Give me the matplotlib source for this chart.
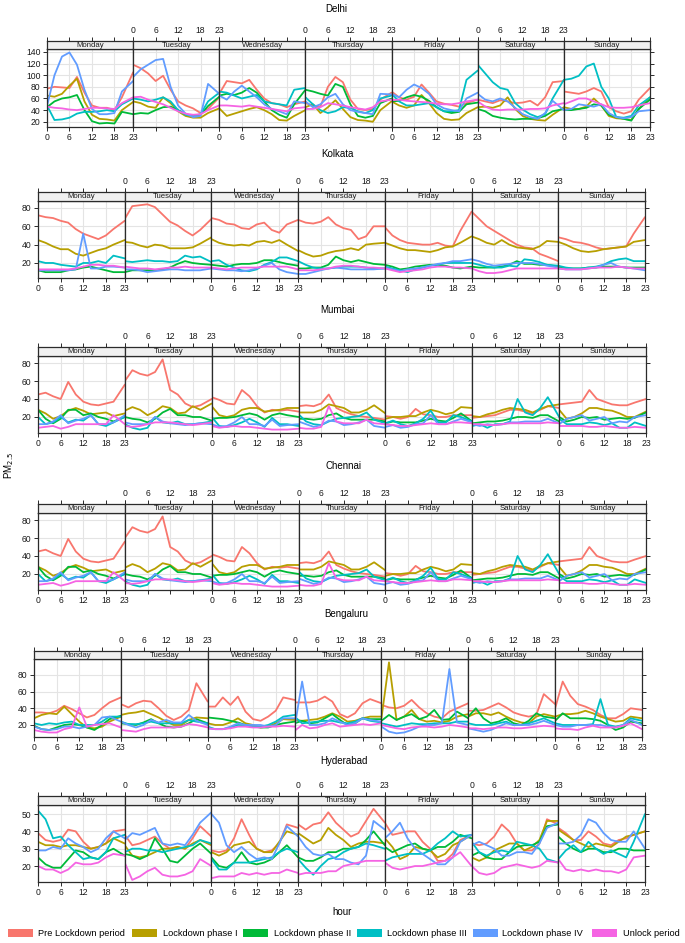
import matplotlib
matplotlib.use("Agg")
import matplotlib.pyplot as plt
from matplotlib.patches import Rectangle

plt.rcParams['font.family'] = ['Liberation Sans', 'DejaVu Sans']

# ---------------- data ----------------
HOURS = [0, 2, 4, 6, 8, 10, 12, 14, 16, 18, 20, 23]
HOUR_TICKS = [0, 6, 12, 18, 23]
DAYS = ["Monday", "Tuesday", "Wednesday", "Thursday", "Friday", "Saturday", "Sunday"]
PERIODS = ["Pre Lockdown period", "Lockdown phase I", "Lockdown phase II",
           "Lockdown phase III", "Lockdown phase IV", "Unlock period"]
COLORS = ["#F8766D", "#B79F00", "#00BA38", "#00BFC4", "#619CFF", "#F564E3"]
CITIES = ["Delhi", "Kolkata", "Mumbai", "Chennai", "Bengaluru", "Hyderabad"]

# each list: 7 days (Mon..Sun) x 12 hourly samples (HOURS)
DELHI_PRE = [77, 80, 79, 78, 97, 70, 48, 44, 44, 40, 62, 105,
             118, 112, 103, 90, 99, 75, 55, 48, 43, 35, 42, 62,
             68, 90, 88, 86, 92, 75, 60, 52, 50, 45, 50, 55,
             52, 48, 46, 80, 97, 88, 58, 42, 40, 42, 58, 70,
             72, 62, 58, 63, 84, 70, 55, 51, 49, 46, 52, 58,
             58, 55, 52, 57, 55, 52, 53, 56, 48, 62, 88, 90,
             72, 70, 68, 72, 78, 72, 45, 38, 34, 38, 58, 78]
DELHI_P1 = [65, 63, 68, 82, 94, 55, 32, 25, 24, 22, 40, 54,
            55, 52, 46, 44, 62, 52, 38, 30, 27, 27, 35, 43,
            43, 30, 34, 38, 42, 45, 40, 33, 23, 22, 30, 40,
            45, 50, 35, 45, 57, 42, 28, 23, 22, 20, 40, 55,
            55, 48, 44, 48, 66, 52, 35, 25, 23, 24, 35, 45,
            45, 46, 44, 48, 62, 42, 30, 25, 23, 22, 32, 45,
            45, 42, 42, 46, 60, 48, 30, 26, 25, 23, 42, 62]
DELHI_P2 = [45, 55, 60, 62, 66, 40, 21, 17, 18, 17, 37, 33,
            33, 35, 34, 40, 45, 46, 40, 33, 30, 32, 47, 63,
            65, 68, 66, 70, 78, 70, 55, 40, 32, 27, 50, 75,
            75, 72, 68, 65, 85, 80, 50, 30, 27, 30, 52, 60,
            55, 56, 62, 66, 63, 56, 45, 38, 35, 37, 50, 53,
            42, 38, 30, 27, 25, 24, 25, 25, 26, 30, 38, 42,
            40, 40, 42, 44, 50, 48, 32, 28, 25, 22, 42, 58]
DELHI_P3 = [48, 23, 24, 27, 34, 37, 37, 38, 40, 38, 50, 60,
            60, 58, 55, 58, 62, 55, 40, 32, 30, 33, 55, 70,
            72, 70, 65, 60, 63, 66, 55, 52, 50, 48, 75, 78,
            62, 50, 40, 35, 38, 45, 44, 38, 35, 40, 60, 65,
            68, 55, 48, 48, 50, 52, 45, 38, 38, 40, 92, 108,
            118, 103, 88, 78, 75, 52, 41, 33, 28, 33, 60, 92,
            92, 94, 99, 115, 120, 80, 60, 28, 27, 30, 48, 62]
DELHI_P4 = [47, 100, 132, 139, 118, 75, 42, 33, 33, 35, 72, 90,
            97, 110, 118, 126, 128, 80, 48, 34, 28, 30, 85, 68,
            65, 58, 72, 82, 72, 62, 50, 42, 38, 33, 55, 52,
            55, 45, 50, 62, 68, 50, 40, 37, 35, 33, 68, 67,
            68, 62, 75, 84, 78, 68, 50, 43, 40, 38, 60, 70,
            68, 58, 55, 60, 55, 44, 33, 28, 25, 35, 56, 40,
            40, 42, 50, 48, 46, 50, 35, 28, 26, 28, 38, 40]
DELHI_UNLOCK = [46, 44, 43, 41, 40, 42, 44, 44, 43, 42, 52, 62,
                62, 63, 58, 54, 50, 44, 38, 34, 32, 33, 40, 48,
                48, 48, 47, 46, 48, 46, 44, 42, 40, 38, 43, 45,
                42, 42, 45, 52, 50, 48, 45, 43, 41, 45, 55, 58,
                57, 58, 56, 55, 54, 53, 51, 50, 50, 52, 55, 58,
                55, 46, 41, 40, 41, 41, 41, 42, 42, 43, 48, 52,
                50, 55, 60, 60, 55, 50, 45, 44, 44, 45, 48, 52]

KOLKATA_PRE = [72, 70, 69, 66, 64, 57, 52, 49, 46, 50, 57, 66,
               68, 82, 83, 84, 81, 73, 65, 61, 55, 50, 56, 68,
               69, 67, 63, 62, 58, 57, 62, 64, 56, 53, 62, 67,
               67, 64, 63, 65, 70, 62, 58, 56, 46, 49, 60, 60,
               59, 50, 45, 42, 41, 40, 40, 42, 39, 38, 55, 76,
               76, 68, 60, 55, 50, 45, 40, 37, 36, 30, 27, 22,
               48, 46, 43, 42, 40, 37, 35, 36, 37, 38, 52, 70]
KOLKATA_P1 = [45, 42, 38, 35, 35, 30, 28, 31, 34, 36, 40, 45,
              43, 42, 39, 37, 40, 39, 36, 36, 36, 37, 41, 48,
              46, 42, 40, 39, 40, 39, 43, 44, 42, 45, 40, 33,
              34, 30, 27, 28, 31, 33, 34, 36, 34, 40, 41, 42,
              42, 39, 36, 34, 34, 33, 32, 34, 37, 38, 42, 49,
              49, 46, 42, 40, 45, 40, 37, 36, 35, 38, 44, 43,
              43, 40, 36, 33, 32, 33, 35, 36, 37, 38, 43, 45]
KOLKATA_P2 = [12, 10, 10, 10, 12, 13, 15, 16, 14, 12, 10, 10,
              10, 12, 12, 12, 12, 13, 15, 19, 22, 20, 19, 18,
              18, 17, 16, 18, 19, 19, 20, 23, 23, 21, 19, 17,
              14, 14, 15, 15, 18, 27, 23, 21, 23, 21, 19, 18,
              18, 16, 13, 14, 16, 17, 18, 18, 17, 15, 14, 16,
              16, 15, 15, 15, 16, 18, 22, 19, 19, 18, 18, 16,
              15, 14, 14, 14, 15, 15, 16, 16, 16, 15, 15, 15]
KOLKATA_P3 = [22, 20, 20, 18, 17, 16, 20, 20, 22, 20, 28, 25,
              22, 21, 22, 23, 22, 22, 21, 22, 28, 26, 27, 21,
              22, 23, 18, 15, 12, 11, 13, 18, 21, 26, 26, 22,
              22, 18, 15, 14, 14, 15, 16, 16, 16, 15, 14, 14,
              16, 14, 12, 10, 13, 15, 17, 18, 20, 20, 20, 20,
              20, 18, 16, 15, 15, 17, 16, 24, 23, 21, 18, 17,
              17, 15, 14, 14, 15, 16, 18, 22, 24, 25, 22, 22]
KOLKATA_P4 = [12, 12, 12, 12, 12, 13, 52, 14, 14, 16, 16, 15,
              13, 13, 12, 10, 11, 12, 13, 13, 12, 12, 12, 14,
              14, 13, 12, 12, 11, 12, 14, 17, 20, 13, 10, 8,
              8, 8, 10, 12, 14, 15, 14, 13, 13, 13, 13, 14,
              15, 13, 11, 13, 14, 15, 17, 19, 20, 22, 22, 24,
              24, 22, 19, 17, 18, 19, 20, 20, 20, 19, 17, 15,
              14, 13, 13, 13, 14, 15, 18, 20, 16, 15, 14, 12]
KOLKATA_UNLOCK = [13, 13, 13, 13, 13, 14, 16, 18, 18, 17, 17, 15,
                  16, 15, 14, 14, 13, 14, 15, 15, 16, 15, 15, 15,
                  15, 14, 13, 14, 15, 15, 15, 16, 16, 16, 16, 13,
                  12, 12, 12, 13, 14, 16, 17, 17, 16, 15, 15, 14,
                  14, 12, 10, 11, 12, 13, 15, 16, 16, 15, 15, 14,
                  14, 11, 9, 9, 10, 12, 14, 14, 14, 14, 14, 14,
                  14, 13, 13, 13, 14, 15, 15, 15, 16, 15, 14, 14]

MUMBAI_PRE = [45, 47, 43, 40, 59, 45, 37, 34, 33, 35, 37, 56,
              60, 72, 68, 66, 70, 84, 50, 45, 35, 31, 33, 40,
              42, 39, 35, 34, 50, 43, 32, 25, 28, 27, 28, 26,
              32, 33, 32, 35, 45, 30, 26, 23, 21, 20, 19, 17,
              21, 20, 18, 20, 29, 23, 22, 20, 20, 22, 22, 22,
              19, 20, 21, 22, 25, 28, 28, 26, 24, 28, 32, 30,
              34, 35, 36, 37, 50, 40, 37, 34, 33, 33, 36, 40]
MUMBAI_P1 = [28, 24, 18, 21, 27, 30, 27, 23, 24, 25, 21, 24,
             27, 31, 28, 22, 26, 32, 30, 24, 25, 32, 28, 35,
             32, 22, 20, 22, 28, 30, 30, 26, 27, 28, 30, 30,
             25, 25, 25, 28, 34, 32, 30, 25, 25, 28, 33, 24,
             18, 20, 20, 21, 21, 25, 28, 26, 23, 25, 31, 30,
             21, 20, 23, 25, 28, 30, 29, 28, 25, 29, 32, 34,
             28, 18, 20, 24, 30, 30, 28, 27, 24, 20, 20, 26]
MUMBAI_P2 = [28, 18, 13, 18, 28, 28, 22, 24, 20, 18, 15, 20,
             20, 18, 17, 14, 18, 25, 29, 22, 22, 20, 20, 16,
             18, 19, 19, 20, 22, 24, 22, 17, 22, 24, 22, 20,
             18, 18, 17, 18, 22, 24, 19, 17, 17, 17, 17, 15,
             13, 15, 14, 14, 14, 16, 18, 16, 15, 19, 24, 15,
             13, 14, 15, 15, 16, 18, 20, 20, 19, 22, 22, 15,
             20, 15, 17, 20, 19, 20, 17, 18, 19, 18, 19, 25]
MUMBAI_P3 = [20, 12, 14, 20, 14, 17, 16, 22, 12, 10, 14, 20,
             12, 8, 6, 8, 20, 14, 13, 15, 12, 12, 13, 15,
             20, 10, 9, 11, 14, 18, 14, 9, 19, 12, 12, 10,
             23, 15, 12, 11, 15, 18, 19, 20, 21, 25, 17, 13,
             13, 16, 12, 10, 13, 18, 27, 14, 14, 22, 20, 15,
             10, 12, 8, 12, 12, 15, 40, 25, 22, 30, 42, 20,
             18, 12, 12, 12, 14, 13, 11, 13, 8, 8, 14, 10]
MUMBAI_P4 = [12, 12, 15, 22, 13, 16, 18, 22, 12, 12, 14, 22,
             14, 12, 12, 12, 20, 15, 13, 12, 11, 12, 13, 12,
             12, 9, 10, 14, 20, 12, 12, 10, 17, 10, 11, 12,
             15, 12, 9, 11, 16, 15, 11, 12, 14, 17, 10, 8,
             9, 11, 8, 9, 12, 13, 22, 12, 12, 15, 18, 14,
             12, 10, 12, 11, 12, 14, 14, 15, 15, 15, 18, 13,
             12, 18, 20, 22, 16, 18, 20, 13, 15, 14, 20, 22]
MUMBAI_UNLOCK = [8, 9, 10, 7, 9, 12, 12, 12, 12, 12, 22, 12,
                 10, 9, 10, 12, 14, 14, 14, 13, 12, 11, 12, 14,
                 10, 8, 9, 10, 9, 9, 8, 7, 6, 6, 6, 7,
                 8, 7, 7, 9, 32, 15, 13, 13, 13, 17, 13, 12,
                 12, 11, 10, 10, 11, 12, 13, 12, 12, 14, 14, 13,
                 12, 12, 11, 11, 12, 13, 13, 13, 13, 13, 14, 13,
                 10, 10, 10, 10, 9, 9, 10, 9, 8, 8, 9, 8]

# the Chennai panel in the reference shows the same curves as Mumbai
CHENNAI_PRE = list(MUMBAI_PRE)
CHENNAI_P1 = list(MUMBAI_P1)
CHENNAI_P2 = list(MUMBAI_P2)
CHENNAI_P3 = list(MUMBAI_P3)
CHENNAI_P4 = list(MUMBAI_P4)
CHENNAI_UNLOCK = list(MUMBAI_UNLOCK)

BENGALURU_PRE = [35, 35, 34, 37, 43, 39, 34, 29, 32, 40, 47, 53,
                 45, 41, 46, 49, 48, 40, 31, 26, 30, 38, 70, 48,
                 42, 42, 53, 44, 54, 36, 27, 25, 30, 37, 53, 50,
                 47, 47, 47, 49, 54, 48, 33, 29, 34, 46, 51, 46,
                 44, 41, 40, 43, 50, 41, 34, 30, 28, 36, 40, 46,
                 37, 37, 38, 42, 46, 41, 35, 32, 30, 32, 57, 45,
                 40, 72, 55, 45, 42, 38, 32, 28, 28, 33, 40, 38]
BENGALURU_P1 = [28, 32, 34, 33, 42, 33, 24, 17, 16, 18, 24, 30,
                32, 34, 35, 37, 33, 29, 24, 20, 20, 26, 29, 28,
                22, 20, 20, 23, 28, 22, 20, 17, 18, 22, 27, 26,
                26, 25, 26, 27, 30, 34, 30, 24, 25, 28, 30, 30,
                28, 95, 26, 30, 38, 27, 24, 25, 23, 25, 30, 33,
                30, 34, 34, 32, 35, 30, 26, 23, 22, 30, 33, 30,
                30, 33, 33, 34, 37, 34, 30, 27, 24, 25, 30, 28]
BENGALURU_P2 = [19, 15, 14, 17, 20, 21, 20, 17, 14, 20, 27, 31,
                22, 21, 20, 23, 27, 22, 18, 17, 18, 22, 27, 22,
                29, 28, 27, 25, 23, 20, 18, 17, 17, 20, 22, 24,
                22, 25, 22, 23, 28, 33, 26, 20, 22, 28, 27, 27,
                25, 32, 26, 30, 33, 27, 30, 38, 26, 27, 36, 28,
                30, 40, 28, 22, 24, 28, 22, 20, 25, 34, 30, 28,
                25, 34, 28, 28, 28, 27, 25, 20, 14, 17, 24, 22]
BENGALURU_P3 = [22, 20, 22, 21, 23, 24, 20, 20, 20, 24, 30, 30,
                24, 21, 21, 22, 24, 22, 22, 22, 22, 26, 24, 22,
                18, 15, 15, 17, 20, 20, 18, 18, 20, 24, 30, 32,
                30, 22, 23, 24, 25, 25, 23, 22, 24, 28, 25, 23,
                22, 20, 18, 20, 22, 21, 21, 22, 22, 22, 24, 24,
                22, 20, 20, 20, 22, 24, 20, 20, 22, 25, 28, 22,
                22, 20, 20, 20, 20, 21, 51, 20, 18, 20, 28, 25]
BENGALURU_P4 = [18, 15, 14, 15, 18, 18, 16, 18, 20, 29, 30, 24,
                24, 20, 17, 20, 26, 23, 26, 23, 23, 32, 25, 20,
                16, 15, 15, 18, 22, 20, 20, 20, 18, 20, 28, 28,
                17, 72, 20, 20, 22, 28, 24, 20, 22, 28, 26, 24,
                18, 12, 10, 11, 14, 18, 20, 20, 22, 87, 23, 20,
                16, 14, 12, 14, 18, 22, 20, 20, 20, 22, 25, 20,
                20, 18, 18, 20, 20, 20, 20, 18, 17, 20, 26, 20]
BENGALURU_UNLOCK = [14, 12, 11, 11, 15, 17, 41, 18, 20, 21, 22, 17,
                    14, 13, 12, 15, 17, 17, 17, 17, 18, 21, 20, 17,
                    16, 15, 15, 16, 18, 18, 17, 17, 18, 18, 19, 18,
                    13, 20, 16, 17, 20, 22, 18, 19, 20, 21, 20, 22,
                    20, 18, 16, 15, 17, 18, 18, 17, 18, 20, 19, 17,
                    16, 16, 15, 16, 17, 17, 16, 16, 17, 18, 19, 18,
                    16, 15, 15, 14, 17, 19, 17, 17, 17, 19, 22, 15]

HYDERABAD_PRE = [39, 35, 34, 35, 41, 40, 34, 30, 31, 33, 40, 41,
                 38, 32, 33, 35, 37, 33, 30, 31, 30, 36, 43, 37,
                 29, 28, 29, 36, 47, 38, 30, 28, 29, 33, 44, 42,
                 44, 41, 44, 45, 51, 45, 41, 37, 39, 46, 53, 45,
                 45, 38, 39, 40, 40, 34, 30, 23, 23, 27, 35, 38,
                 33, 32, 33, 37, 44, 40, 33, 29, 29, 33, 47, 44,
                 42, 39, 35, 35, 40, 37, 33, 32, 35, 36, 38, 40]
HYDERABAD_P1 = [34, 32, 32, 31, 32, 32, 31, 30, 31, 33, 36, 33,
                32, 26, 25, 26, 28, 30, 30, 31, 30, 33, 35, 32,
                28, 26, 28, 32, 33, 34, 30, 28, 28, 34, 40, 38,
                39, 36, 33, 35, 42, 38, 35, 31, 33, 34, 34, 33,
                36, 31, 24, 26, 31, 30, 29, 25, 27, 32, 34, 38,
                25, 23, 25, 29, 31, 33, 33, 29, 31, 35, 46, 46,
                41, 38, 35, 33, 31, 33, 32, 31, 34, 37, 38, 40]
HYDERABAD_P2 = [25, 21, 19, 19, 24, 29, 28, 25, 24, 28, 30, 26,
                27, 26, 24, 26, 36, 30, 23, 22, 26, 30, 33, 27,
                25, 20, 19, 22, 28, 22, 21, 22, 24, 28, 32, 25,
                25, 23, 23, 25, 28, 28, 30, 30, 31, 35, 40, 32,
                31, 28, 30, 32, 33, 30, 29, 31, 31, 34, 38, 36,
                26, 28, 25, 24, 24, 28, 31, 32, 32, 34, 43, 44,
                37, 33, 30, 28, 30, 30, 28, 28, 30, 30, 29, 29]
HYDERABAD_P3 = [52, 47, 36, 37, 32, 28, 24, 25, 24, 28, 36, 38,
                28, 30, 30, 29, 29, 28, 29, 30, 31, 32, 35, 33,
                24, 18, 18, 22, 22, 22, 23, 24, 25, 28, 30, 28,
                24, 19, 15, 20, 24, 25, 28, 30, 31, 33, 32, 30,
                23, 25, 26, 27, 27, 27, 29, 33, 36, 40, 37, 38,
                34, 28, 26, 28, 29, 28, 34, 33, 32, 30, 24, 22,
                24, 29, 32, 28, 34, 30, 27, 29, 27, 25, 34, 50]
HYDERABAD_P4 = [29, 29, 31, 30, 36, 33, 31, 28, 30, 36, 40, 36,
                35, 39, 38, 40, 42, 33, 32, 33, 32, 38, 45, 51,
                50, 45, 32, 28, 31, 27, 24, 25, 24, 33, 43, 37,
                37, 31, 27, 26, 27, 24, 24, 22, 21, 26, 46, 41,
                36, 40, 45, 36, 30, 27, 24, 21, 21, 25, 34, 38,
                32, 34, 32, 30, 26, 26, 28, 28, 27, 33, 42, 45,
                33, 33, 34, 38, 47, 45, 39, 35, 34, 34, 40, 30]
HYDERABAD_UNLOCK = [20, 18, 18, 16, 18, 22, 21, 21, 22, 25, 27, 26,
                    22, 12, 14, 17, 19, 15, 14, 14, 15, 17, 24, 20,
                    13, 14, 14, 14, 16, 15, 16, 15, 16, 16, 18, 16,
                    15, 16, 16, 16, 17, 17, 20, 21, 22, 23, 23, 23,
                    22, 19, 18, 19, 20, 20, 21, 22, 23, 25, 28, 20,
                    20, 16, 15, 16, 19, 20, 21, 20, 19, 20, 23, 22,
                    24, 18, 17, 18, 17, 18, 17, 17, 16, 18, 25, 26]

CITY_DATA = {
    "Delhi": [DELHI_PRE, DELHI_P1, DELHI_P2, DELHI_P3, DELHI_P4, DELHI_UNLOCK],
    "Kolkata": [KOLKATA_PRE, KOLKATA_P1, KOLKATA_P2, KOLKATA_P3, KOLKATA_P4, KOLKATA_UNLOCK],
    "Mumbai": [MUMBAI_PRE, MUMBAI_P1, MUMBAI_P2, MUMBAI_P3, MUMBAI_P4, MUMBAI_UNLOCK],
    "Chennai": [CHENNAI_PRE, CHENNAI_P1, CHENNAI_P2, CHENNAI_P3, CHENNAI_P4, CHENNAI_UNLOCK],
    "Bengaluru": [BENGALURU_PRE, BENGALURU_P1, BENGALURU_P2, BENGALURU_P3, BENGALURU_P4, BENGALURU_UNLOCK],
    "Hyderabad": [HYDERABAD_PRE, HYDERABAD_P1, HYDERABAD_P2, HYDERABAD_P3, HYDERABAD_P4, HYDERABAD_UNLOCK],
}
Y_TICKS = {
    "Delhi": [20, 40, 60, 80, 100, 120, 140],
    "Kolkata": [20, 40, 60, 80],
    "Mumbai": [20, 40, 60, 80],
    "Chennai": [20, 40, 60, 80],
    "Bengaluru": [20, 40, 60, 80],
    "Hyderabad": [20, 30, 40, 50],
}

# ---------------- layout (pixels) ----------------
W, H = 685, 943
LAYOUT = {
    "Delhi":     dict(left=47, right=650, st=41, sb=49, bot=127, ylim=(11, 145), tx=336, ty=9),
    "Kolkata":   dict(left=38, right=645, st=192, sb=201, bot=278, ylim=(3.6, 87.6), tx=337, ty=154),
    "Mumbai":    dict(left=38, right=646, st=347, sb=356, bot=433, ylim=(2.2, 87.8), tx=337, ty=310),
    "Chennai":   dict(left=38, right=646, st=504, sb=513, bot=590, ylim=(2.2, 87.8), tx=343, ty=466),
    "Bengaluru": dict(left=34, right=642, st=651, sb=659, bot=737, ylim=(5.6, 99), tx=346, ty=614),
    "Hyderabad": dict(left=38, right=645, st=796, sb=805, bot=882, ylim=(10.8, 55.2), tx=344, ty=761),
}

TXT = '#1a1a1a'
SPINE = '#2b2b2b'
TICK_FS = 6.2


def rect(l, t, r, b):
    return [l / W, 1 - b / H, (r - l) / W, (b - t) / H]


fig = plt.figure(figsize=(W / 100, H / 100), dpi=100)
fig.patch.set_facecolor('white')

for city in CITIES:
    L = LAYOUT[city]
    pw = (L["right"] - L["left"]) / 7.0
    series = CITY_DATA[city]
    for d, day in enumerate(DAYS):
        x0 = L["left"] + d * pw
        x1 = x0 + pw
        ax = fig.add_axes(rect(x0, L["sb"], x1, L["bot"]))
        for values, color in zip(series, COLORS):
            ax.plot(HOURS, values[d * 12:(d + 1) * 12], color=color, lw=1.3,
                    solid_joinstyle='round', solid_capstyle='round')
        ax.set_xlim(0, 23)
        ax.set_ylim(*L["ylim"])
        ax.set_xticks(HOUR_TICKS)
        ax.set_yticks(Y_TICKS[city])
        ax.grid(True, color='#e4e4e4', lw=0.8)
        ax.set_axisbelow(True)
        ax.tick_params(axis='x', direction='out', length=3, width=0.7, color=SPINE,
                       bottom=True, top=False, labelbottom=(d % 2 == 0), labeltop=False,
                       labelsize=TICK_FS, labelcolor=TXT, pad=1.6)
        ax.tick_params(axis='y', direction='out', length=3, width=0.7, color=SPINE,
                       left=(d == 0), right=(d == 6), labelleft=(d == 0), labelright=False,
                       labelsize=TICK_FS, labelcolor=TXT, pad=1.6)
        for sp in ax.spines.values():
            sp.set_color(SPINE)
            sp.set_linewidth(0.9)

        sax = fig.add_axes(rect(x0, L["st"], x1, L["sb"]))
        sax.set_facecolor('#f0f0f0')
        sax.set_xlim(0, 23)
        sax.set_ylim(0, 1)
        sax.set_xticks(HOUR_TICKS)
        sax.set_yticks([])
        sax.tick_params(axis='x', direction='out', length=3, width=0.7, color=SPINE,
                        top=True, bottom=False, labeltop=(d % 2 == 1), labelbottom=False,
                        labelsize=TICK_FS, labelcolor=TXT, pad=1.6)
        for sp in sax.spines.values():
            sp.set_color(SPINE)
            sp.set_linewidth(0.9)
        sax.text(11.5, 0.45, day, ha='center', va='center', fontsize=5.6, color=TXT)

    fig.text(L["tx"] / W, 1 - L["ty"] / H, city, ha='center', va='center',
             fontsize=7.0, color='black')

# axis labels
fig.text(342 / W, 1 - 912 / H, "hour", ha='center', va='center', fontsize=7.0, color='black')
fig.text(9 / W, 1 - 466 / H, r"PM$_{2.5}$", ha='center', va='center', rotation=90,
         fontsize=7.0, color='black')

# legend
LEG_PATCH_X = [8, 132, 243, 357, 473, 592]
LEG_TEXT_X = [38, 163, 274, 387, 502, 623]
for label, color, px, tx in zip(PERIODS, COLORS, LEG_PATCH_X, LEG_TEXT_X):
    fig.add_artist(Rectangle((px / W, 1 - 937 / H), 25 / W, 8 / H, transform=fig.transFigure,
                             facecolor=color, edgecolor='none'))
    fig.text(tx / W, 1 - 933 / H, label, ha='left', va='center', fontsize=6.7, color='black')

fig.savefig("out.png", dpi=100)
